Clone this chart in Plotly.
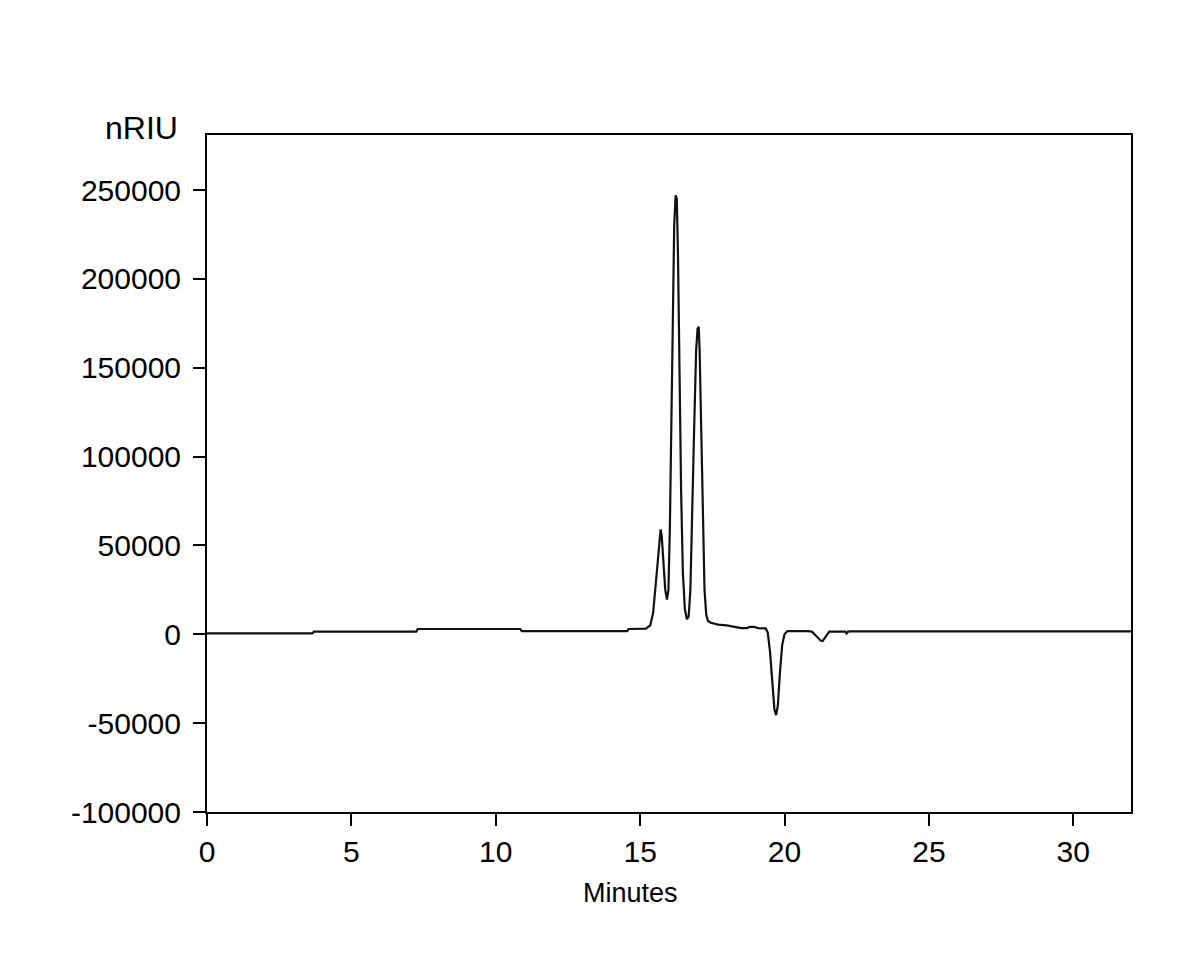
import plotly.graph_objects as go

# Retention time (minutes) and detector signal (nRIU)
time_min = [0.0, 3.65, 3.70, 7.25, 7.30, 10.85, 10.90, 14.55, 14.60, 15.20,
            15.35, 15.45, 15.55, 15.62, 15.68, 15.71, 15.75, 15.80, 15.87, 15.93,
            15.98, 16.03, 16.08, 16.13, 16.18, 16.23, 16.27, 16.31, 16.36, 16.42,
            16.48, 16.55, 16.62, 16.68, 16.74, 16.80, 16.87, 16.94, 16.99, 17.03,
            17.06, 17.11, 17.17, 17.23, 17.29, 17.35, 17.45, 17.70, 18.00, 18.30,
            18.50, 18.70, 18.80, 18.95, 19.10, 19.35, 19.42, 19.50, 19.58, 19.65,
            19.71, 19.77, 19.84, 19.92, 20.00, 20.10, 20.80, 20.95, 21.10, 21.25,
            21.32, 21.42, 21.55, 22.10, 22.15, 22.20, 22.30, 32.0]
signal_nriu = [500, 500, 1500, 1500, 3000, 3000, 1800, 1800, 3000, 3200,
               5000, 12000, 30000, 45000, 56000, 59000, 55000, 42000, 25000, 19500,
               25000, 60000, 120000, 185000, 230000, 247000, 245000, 215000, 150000, 80000,
               35000, 14000, 8500, 10000, 25000, 60000, 115000, 160000, 172000, 173000,
               160000, 120000, 60000, 25000, 11000, 7500, 6500, 5500, 5000, 4000,
               3500, 3500, 4200, 4200, 3400, 3300, 1000, -10000, -28000, -42000,
               -45500, -40000, -22000, -6000, 0, 1800, 1800, 1500, -1000, -3500,
               -3800, -1500, 1500, 1500, 500, 1500, 1700, 1700]

x_tickvals = [0, 5, 10, 15, 20, 25, 30]
x_ticktext = ["0", "5", "10", "15", "20", "25", "30"]
y_tickvals = [-100000, -50000, 0, 50000, 100000, 150000, 200000, 250000]
y_ticktext = ["-100000", "-50000", "0", "50000", "100000", "150000", "200000", "250000"]

FONT = "Arial, Liberation Sans, sans-serif"

fig = go.Figure()
fig.add_trace(go.Scatter(
    x=time_min, y=signal_nriu, mode="lines",
    line=dict(color="#111111", width=2.2),
    hoverinfo="x+y", showlegend=False,
))

axis_common = dict(
    showline=True, linecolor="black", linewidth=2, mirror=True,
    ticks="outside", ticklen=12, tickwidth=2, tickcolor="black",
    showgrid=False, zeroline=False,
    tickfont=dict(family=FONT, size=30, color="black"),
)

fig.update_xaxes(range=[0, 32], tickmode="array", tickvals=x_tickvals,
                 ticktext=x_ticktext, **axis_common)
fig.update_yaxes(range=[-100000, 281000], tickmode="array", tickvals=y_tickvals,
                 ticktext=y_ticktext, ticklabelstandoff=6, **axis_common)

fig.add_annotation(text="nRIU", xref="paper", yref="paper", x=-0.029, y=1.0103,
                   xanchor="right", yanchor="middle", showarrow=False,
                   font=dict(family=FONT, size=32, color="black"))
fig.add_annotation(text="Minutes", xref="paper", yref="paper", x=0.458, y=-0.1196,
                   xanchor="center", yanchor="middle", showarrow=False,
                   font=dict(family=FONT, size=27, color="black"))

fig.update_layout(
    width=1201, height=980,
    margin=dict(l=199, r=78, t=127, b=176),
    paper_bgcolor="white", plot_bgcolor="white",
    font=dict(family=FONT, color="black"),
)

fig.write_html("out.html")
